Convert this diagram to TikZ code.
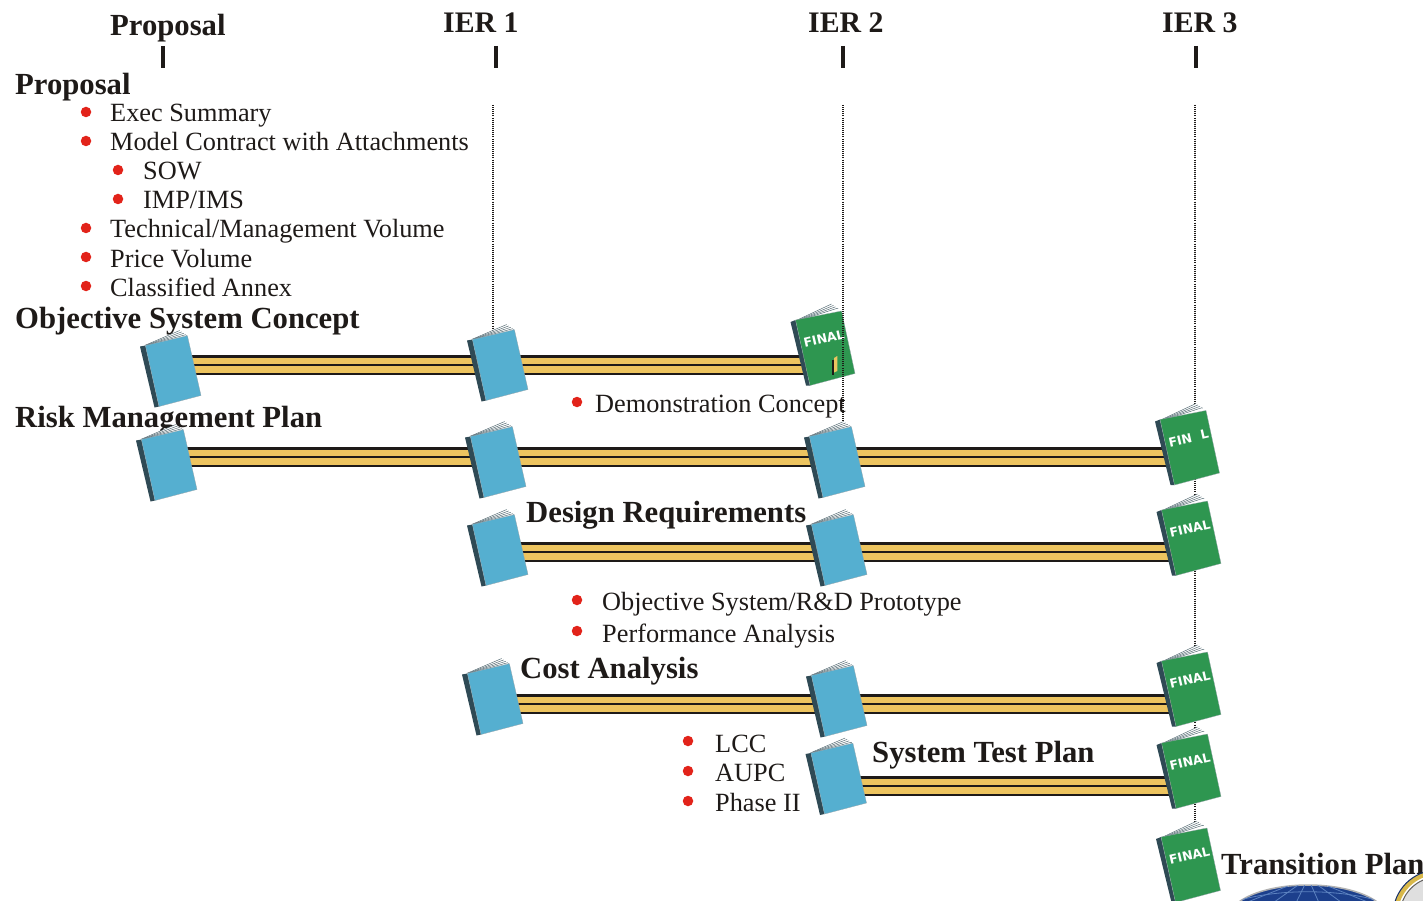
\documentclass[tikz,border=0pt]{standalone}
\usepackage{fontspec}
\setmainfont{Liberation Serif}
\setsansfont{DejaVu Sans}
\definecolor{bookblue}{HTML}{55AFD0}
\definecolor{bookgreen}{HTML}{2E9650}
\definecolor{spinedark}{HTML}{2F4A55}
\definecolor{bargold}{HTML}{EDC45F}
\definecolor{inkblack}{HTML}{1E1A18}
\definecolor{bulletred}{HTML}{E2231A}
\definecolor{globeblue}{HTML}{1C3F8C}
\definecolor{gridblue}{HTML}{5C82C0}
\definecolor{sealgold}{HTML}{D8B84A}
\tikzset{
  head/.style={anchor=base west,inner sep=0pt,font=\fontsize{30.7}{30.7}\selectfont\bfseries,text=inkblack},
  tophead/.style={head,font=\fontsize{29.8}{29.8}\selectfont\bfseries},
  item/.style={anchor=base west,inner sep=0pt,font=\fontsize{26.3}{26.3}\selectfont,text=inkblack},
  tickmark/.style={draw=inkblack,line width=4pt},
  guide/.style={draw=inkblack,line width=1.1pt,dash pattern=on 1pt off 1.1pt},
  bullet/.style={circle,fill=bulletred,inner sep=0pt,minimum size=10.5pt},
  barouter/.style={draw=inkblack,line width=19.5pt},
  bargoldfill/.style={draw=bargold,line width=15pt},
  barthin/.style={draw=inkblack,line width=1.1pt},
  finaltext/.style={inner sep=0pt,rotate=13,text=white,font=\fontsize{12.5}{12.5}\selectfont\sffamily\bfseries}
}
\newcommand{\pagesfan}[4]{% top corner x,y and right corner x,y
  \fill[white] (4,-1) -- (#1,#2) -- (#3,#4) -- (#3,#4+3) -- (8,0) -- cycle;
  \foreach \k in {0,1,2,3}{\draw[spinedark!85,line width=.45pt] (5+\k*1.5,-1.2-\k*0.2) -- (#1+\k*2,#2+\k*1.4);}
  \draw[spinedark!85,line width=.45pt] (#1+6,#2+4.2) -- (#3,#4);
}
\newcommand{\plainbook}[3]{% name, x, y
  \begin{scope}[shift={(#2,#3)}]
    \coordinate (#1) at (0,0);
    \pagesfan{39.7}{-16}{46.4}{-10.6}
    \fill[spinedark] (0,0) -- (5.4,-1) -- (19,60) -- (14.5,61) -- cycle;
    \fill[bookblue,draw=spinedark!50,line width=.3pt] (5.4,-1) -- (47.4,-10.8) -- (61,49) -- (19,60) -- cycle;
  \end{scope}}
\newcommand{\finalbook}[4]{% name, x, y, text
  \begin{scope}[shift={(#2,#3)}]
    \coordinate (#1) at (0,0);
    \pagesfan{41}{-18}{47.6}{-13.3}
    \fill[spinedark] (0,0) -- (5,-2) -- (19.5,63.5) -- (15.5,63.5) -- cycle;
    \fill[bookgreen,draw=spinedark!50,line width=.3pt] (5,-2) -- (51,-11) -- (64.5,51.5) -- (19.5,63.5) -- cycle;
  \end{scope}
  \node[finaltext] (#1t) at (#2+33.5,#3+16.5) {#4};}
\newcommand{\barlink}[2]{%
  \draw[barouter] (#1) -- (#2);
  \draw[bargoldfill] (#1) -- (#2);
  \draw[barthin,yshift=4.8pt] (#1) -- (#2);}
\begin{document}
\begin{tikzpicture}[x=1pt,y=-1pt]
\useasboundingbox (0,0) rectangle (1423,901);
% header
\node[head] (h0) at (110,35.5) {Proposal};
\node[tophead] (h1) at (443,33) {IER 1};
\node[tophead] (h2) at (808,33) {IER 2};
\node[tophead] (h3) at (1162,33) {IER 3};
\foreach \n/\x in {t0/163,t1/496,t2/843,t3/1196}{
  \coordinate (\n a) at (\x,46); \coordinate (\n b) at (\x,68);
  \draw[tickmark] (\n a) -- (\n b);}
% guide lines
\coordinate (g1a) at (493,105); \coordinate (g1b) at (493,330);
\coordinate (g2a) at (843,105); \coordinate (g2b) at (843,425);
\coordinate (g3a) at (1195,105); \coordinate (g3b) at (1195,830);
\draw[guide] (g1a) -- (g1b);
\draw[guide] (g3a) -- (g3b);
% proposal list
\node[head] (pp) at (15,95) {Proposal};
\foreach \n/\bx/\tx/\y/\t in {
  a/86/110/122/{Exec Summary},
  b/86/110/151/{Model Contract with Attachments},
  c/118/143/180/{SOW},
  d/118/143/209/{IMP/IMS},
  e/86/110/238/{Technical/Management Volume},
  f/86/110/267/{Price Volume},
  g/86/110/296/{Classified Annex}}{
  \node[bullet] (b\n) at (\bx,\y-10) {};
  \node[item] (i\n) at (\tx,\y) {\t};}
% headings
\node[head] (osc) at (15,328) {Objective System Concept};
\node[head] (rmp) at (15,427) {Risk Management Plan};
\node[head] (dr) at (526,522) {Design Requirements};
\node[head] (ca) at (520,678) {Cost Analysis};
\node[head] (stp) at (872,762) {System Test Plan};
\node[head] (tp) at (1221,874) {Transition Plan};
% sub lists
\node[bullet] (bdc) at (577,402) {};
\node[item] (idc) at (595,412) {Demonstration Concept};
\node[bullet] (bop) at (577,600) {};
\node[item] (iop) at (602,610) {Objective System/R\&D Prototype};
\node[bullet] (bpa) at (577,631) {};
\node[item] (ipa) at (602,642) {Performance Analysis};
\node[bullet] (blc) at (688,741) {};
\node[item] (ilc) at (715,752) {LCC};
\node[bullet] (bau) at (688,771) {};
\node[item] (iau) at (715,781) {AUPC};
\node[bullet] (bph) at (688,801) {};
\node[item] (iph) at (715,811) {Phase II};
% bars
\coordinate (r1a) at (175,365); \coordinate (r1b) at (820,365);
\coordinate (r2a) at (170,457); \coordinate (r2b) at (1180,457);
\coordinate (r3a) at (505,552); \coordinate (r3b) at (1180,552);
\coordinate (r4a) at (500,704); \coordinate (r4b) at (1180,704);
\coordinate (r5a) at (840,786); \coordinate (r5b) at (1180,786);
\barlink{r1a}{r1b}
\barlink{r2a}{r2b}
\barlink{r3a}{r3b}
\barlink{r4a}{r4b}
\barlink{r5a}{r5b}
% books
\plainbook{b1}{140}{346.5}
\plainbook{b2}{467}{340.5}
\finalbook{b3}{790.5}{322}{FINAL}
\fill[bargold] (834,358) -- (837.3,356) -- (837.3,371) -- (834,372.5) -- cycle;
\fill[inkblack] (832.3,360) rectangle (834,375);
\draw[guide] (g2a) -- (g2b);
\plainbook{b4}{136}{440.5}
\plainbook{b5}{465}{437.5}
\plainbook{b6}{804}{437.5}
\finalbook{b7}{1155}{421.5}{FIN\hspace{9pt}L}
\plainbook{b8}{467}{525.5}
\plainbook{b9}{806}{525.5}
\finalbook{b10}{1156.5}{512}{FINAL}
\plainbook{b11}{462}{674.5}
\plainbook{b12}{806}{676.5}
\finalbook{b13}{1156.5}{663}{FINAL}
\plainbook{b14}{805.5}{754}
\finalbook{b15}{1156.5}{745}{FINAL}
\finalbook{b16}{1156}{839}{FINAL}
% emblems cropped by the page
\begin{scope}
\clip (0,0) rectangle (1423,901);
\fill[globeblue,draw=gray!60,line width=1.5pt] (1308,919) ellipse (80 and 34);
\begin{scope}
\clip (1308,919) ellipse (80 and 34);
\foreach \tx in {1240,1270,1295,1320,1345,1375}{\draw[gridblue,line width=.8pt] (1308,878) -- (\tx,905);}
\draw[gridblue,line width=.8pt] (1240,900) .. controls (1280,889) and (1335,889) .. (1376,900);
\end{scope}
\draw[inkblack!70,line width=1pt,fill=gray!25] (1438,915) circle (38);
\draw[sealgold,line width=4.5pt] (1438,915) circle (42.5);
\draw[globeblue!70!black,line width=1pt] (1438,915) circle (45);
\end{scope}
\end{tikzpicture}
\end{document}
